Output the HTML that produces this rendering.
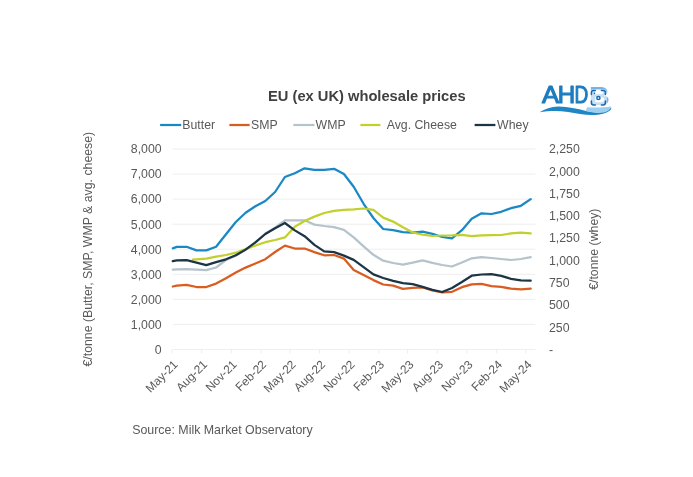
<!DOCTYPE html>
<html><head><meta charset="utf-8"><title>EU (ex UK) wholesale prices</title>
<style>
html,body{margin:0;padding:0;background:#fff;}
body{width:693px;height:477px;overflow:hidden;font-family:"Liberation Sans",Arial,sans-serif;}
svg{display:block;}
svg text{font-family:"Liberation Sans",Arial,sans-serif;}
</style></head><body>
<svg width="693" height="477" viewBox="0 0 693 477">
<rect width="693" height="477" fill="#ffffff"/>
<g id="grid">
<line x1="172.6" y1="149.0" x2="535.4" y2="149.0" stroke="#ececec" stroke-width="0.9"/>
<line x1="172.6" y1="174.1" x2="535.4" y2="174.1" stroke="#ececec" stroke-width="0.9"/>
<line x1="172.6" y1="199.1" x2="535.4" y2="199.1" stroke="#ececec" stroke-width="0.9"/>
<line x1="172.6" y1="224.2" x2="535.4" y2="224.2" stroke="#ececec" stroke-width="0.9"/>
<line x1="172.6" y1="249.2" x2="535.4" y2="249.2" stroke="#ececec" stroke-width="0.9"/>
<line x1="172.6" y1="274.3" x2="535.4" y2="274.3" stroke="#ececec" stroke-width="0.9"/>
<line x1="172.6" y1="299.4" x2="535.4" y2="299.4" stroke="#ececec" stroke-width="0.9"/>
<line x1="172.6" y1="324.4" x2="535.4" y2="324.4" stroke="#ececec" stroke-width="0.9"/>
<line x1="172.6" y1="349.5" x2="535.4" y2="349.5" stroke="#ececec" stroke-width="0.9"/>
<line x1="171.9" y1="349.5" x2="171.9" y2="353.5" stroke="#ececec" stroke-width="0.9"/>
<line x1="201.6" y1="349.5" x2="201.6" y2="353.5" stroke="#ececec" stroke-width="0.9"/>
<line x1="231.3" y1="349.5" x2="231.3" y2="353.5" stroke="#ececec" stroke-width="0.9"/>
<line x1="261.0" y1="349.5" x2="261.0" y2="353.5" stroke="#ececec" stroke-width="0.9"/>
<line x1="289.8" y1="349.5" x2="289.8" y2="353.5" stroke="#ececec" stroke-width="0.9"/>
<line x1="319.5" y1="349.5" x2="319.5" y2="353.5" stroke="#ececec" stroke-width="0.9"/>
<line x1="349.2" y1="349.5" x2="349.2" y2="353.5" stroke="#ececec" stroke-width="0.9"/>
<line x1="378.9" y1="349.5" x2="378.9" y2="353.5" stroke="#ececec" stroke-width="0.9"/>
<line x1="407.6" y1="349.5" x2="407.6" y2="353.5" stroke="#ececec" stroke-width="0.9"/>
<line x1="437.3" y1="349.5" x2="437.3" y2="353.5" stroke="#ececec" stroke-width="0.9"/>
<line x1="467.0" y1="349.5" x2="467.0" y2="353.5" stroke="#ececec" stroke-width="0.9"/>
<line x1="496.7" y1="349.5" x2="496.7" y2="353.5" stroke="#ececec" stroke-width="0.9"/>
<line x1="525.8" y1="349.5" x2="525.8" y2="353.5" stroke="#ececec" stroke-width="0.9"/>
</g>
<text x="366.8" y="101.3" text-anchor="middle" font-size="14.7" font-weight="bold" fill="#404040">EU (ex UK) wholesale prices</text>
<g id="legend" font-size="12.3" fill="#595959">
<line x1="160.1" y1="125" x2="181.2" y2="125" stroke="#1a88c4" stroke-width="2.25"/>
<text x="182.3" y="129.2">Butter</text>
<line x1="229.4" y1="125" x2="249.6" y2="125" stroke="#d95d20" stroke-width="2.25"/>
<text x="251.0" y="129.2">SMP</text>
<line x1="293.4" y1="125" x2="314.5" y2="125" stroke="#b5c3cb" stroke-width="2.25"/>
<text x="315.6" y="129.2">WMP</text>
<line x1="360.4" y1="125" x2="380.4" y2="125" stroke="#c1d02d" stroke-width="2.25"/>
<text x="386.7" y="129.2">Avg. Cheese</text>
<line x1="474.6" y1="125" x2="495.4" y2="125" stroke="#1c3545" stroke-width="2.25"/>
<text x="497.1" y="129.2">Whey</text>
</g>
<g id="yleft" font-size="12.3" fill="#595959">
<text x="161.6" y="153.3" text-anchor="end">8,000</text>
<text x="161.6" y="178.4" text-anchor="end">7,000</text>
<text x="161.6" y="203.4" text-anchor="end">6,000</text>
<text x="161.6" y="228.5" text-anchor="end">5,000</text>
<text x="161.6" y="253.5" text-anchor="end">4,000</text>
<text x="161.6" y="278.6" text-anchor="end">3,000</text>
<text x="161.6" y="303.7" text-anchor="end">2,000</text>
<text x="161.6" y="328.7" text-anchor="end">1,000</text>
<text x="161.6" y="353.8" text-anchor="end">0</text>
</g>
<g id="yright" font-size="12.3" fill="#595959">
<text x="549.0" y="153.3">2,250</text>
<text x="549.0" y="175.6">2,000</text>
<text x="549.0" y="197.9">1,750</text>
<text x="549.0" y="220.1">1,500</text>
<text x="549.0" y="242.4">1,250</text>
<text x="549.0" y="264.7">1,000</text>
<text x="549.0" y="287.0">750</text>
<text x="549.0" y="309.3">500</text>
<text x="549.0" y="331.5">250</text>
<text x="549.0" y="353.8">-</text>
</g>
<g id="xlabels" font-size="11.9" fill="#595959">
<text transform="translate(178.5,365.2) rotate(-45)" text-anchor="end">May-21</text>
<text transform="translate(208.0,365.2) rotate(-45)" text-anchor="end">Aug-21</text>
<text transform="translate(237.5,365.2) rotate(-45)" text-anchor="end">Nov-21</text>
<text transform="translate(267.0,365.2) rotate(-45)" text-anchor="end">Feb-22</text>
<text transform="translate(296.5,365.2) rotate(-45)" text-anchor="end">May-22</text>
<text transform="translate(325.9,365.2) rotate(-45)" text-anchor="end">Aug-22</text>
<text transform="translate(355.4,365.2) rotate(-45)" text-anchor="end">Nov-22</text>
<text transform="translate(384.9,365.2) rotate(-45)" text-anchor="end">Feb-23</text>
<text transform="translate(414.4,365.2) rotate(-45)" text-anchor="end">May-23</text>
<text transform="translate(443.9,365.2) rotate(-45)" text-anchor="end">Aug-23</text>
<text transform="translate(473.4,365.2) rotate(-45)" text-anchor="end">Nov-23</text>
<text transform="translate(502.9,365.2) rotate(-45)" text-anchor="end">Feb-24</text>
<text transform="translate(532.4,365.2) rotate(-45)" text-anchor="end">May-24</text>
</g>
<text transform="translate(92,249.2) rotate(-90)" text-anchor="middle" font-size="12.3" fill="#595959">€/tonne (Butter, SMP, WMP &amp; avg. cheese)</text>
<text transform="translate(597.7,249.2) rotate(-90)" text-anchor="middle" font-size="12.3" fill="#595959">€/tonne (whey)</text>
<g id="series">
<polyline points="172.8,248.4 176.8,246.9 186.6,246.8 196.5,250.4 206.3,250.4 216.1,246.7 226.0,234.2 235.8,222.0 245.6,212.8 255.4,206.2 265.3,201.0 275.1,192.0 284.9,177.0 294.8,173.3 304.6,168.3 314.4,169.9 324.2,169.9 334.1,168.8 343.9,174.0 353.7,186.8 363.6,203.8 373.4,218.0 383.2,229.0 393.1,230.2 402.9,232.1 412.7,232.7 422.6,231.6 432.4,233.8 442.2,237.0 452.0,238.3 461.9,230.2 471.7,218.8 481.5,213.3 491.4,214.0 501.2,211.8 511.0,208.2 520.9,205.8 530.7,199.1" fill="none" stroke="#1a88c4" stroke-width="2.25" stroke-linejoin="round" stroke-linecap="round"/>
<polyline points="172.8,286.5 176.8,285.6 186.6,284.8 196.5,287.0 206.3,287.0 216.1,283.6 226.0,278.2 235.8,272.6 245.6,267.6 255.4,263.5 265.3,259.2 275.1,252.0 284.9,245.6 294.8,248.5 304.6,248.5 314.4,252.1 324.2,255.3 334.1,255.0 343.9,258.6 353.7,270.0 363.6,275.1 373.4,280.1 383.2,284.5 393.1,285.6 402.9,288.9 412.7,287.9 422.6,287.4 432.4,290.5 442.2,292.3 452.0,291.8 461.9,287.2 471.7,284.3 481.5,283.9 491.4,286.2 501.2,286.9 511.0,288.7 520.9,289.4 530.7,288.7" fill="none" stroke="#d95d20" stroke-width="2.25" stroke-linejoin="round" stroke-linecap="round"/>
<polyline points="172.8,269.6 176.8,269.4 186.6,269.1 196.5,269.7 206.3,270.2 216.1,267.5 226.0,260.0 235.8,255.6 245.6,249.8 255.4,242.5 265.3,233.8 275.1,227.6 284.9,220.3 294.8,220.3 304.6,220.3 314.4,224.6 324.2,226.0 334.1,227.1 343.9,229.8 353.7,237.4 363.6,246.3 373.4,254.8 383.2,260.7 393.1,263.0 402.9,264.6 412.7,262.7 422.6,260.3 432.4,262.8 442.2,265.0 452.0,266.5 461.9,262.5 471.7,258.3 481.5,257.1 491.4,258.0 501.2,259.0 511.0,260.0 520.9,259.0 530.7,257.1" fill="none" stroke="#b5c3cb" stroke-width="2.25" stroke-linejoin="round" stroke-linecap="round"/>
<polyline points="192.8,259.6 196.5,259.3 206.3,258.6 216.1,256.6 226.0,255.0 235.8,252.7 245.6,249.1 255.4,245.5 265.3,242.2 275.1,240.0 284.9,237.4 294.8,226.8 304.6,221.0 314.4,216.6 324.2,213.0 334.1,210.9 343.9,209.8 353.7,209.3 363.6,208.5 373.4,209.9 383.2,217.6 393.1,221.6 402.9,227.2 412.7,232.5 422.6,234.6 432.4,236.0 442.2,235.5 452.0,235.4 461.9,234.8 471.7,236.2 481.5,235.4 491.4,235.2 501.2,235.0 511.0,233.4 520.9,232.6 530.7,233.4" fill="none" stroke="#c1d02d" stroke-width="2.25" stroke-linejoin="round" stroke-linecap="round"/>
<polyline points="172.8,261.2 176.8,260.4 186.6,260.2 196.5,262.6 206.3,265.2 216.1,262.2 226.0,259.3 235.8,255.3 245.6,249.6 255.4,242.4 265.3,234.0 275.1,228.2 284.9,223.0 294.8,230.4 304.6,236.2 314.4,244.9 324.2,251.4 334.1,252.1 343.9,255.6 353.7,259.9 363.6,267.2 373.4,274.4 383.2,278.0 393.1,280.8 402.9,283.1 412.7,284.2 422.6,286.9 432.4,289.8 442.2,292.0 452.0,288.0 461.9,282.0 471.7,275.7 481.5,274.5 491.4,274.2 501.2,275.9 511.0,278.8 520.9,280.3 530.7,280.7" fill="none" stroke="#1c3545" stroke-width="2.25" stroke-linejoin="round" stroke-linecap="round"/>
</g>
<g id="logo">
<g font-size="23.2" fill="#1b7cbf" stroke="#1b7cbf" stroke-width="1.05" stroke-linejoin="round">
<text transform="translate(541.9,103.4) scale(1.1,1)">A</text>
<text transform="translate(557.7,103.4) scale(1.04,1)">H</text>
<text transform="translate(574.6,103.4) scale(0.82,1)">D</text>
</g>
<text transform="translate(589.0,105.2) scale(1.09,1)" font-size="26.5" font-weight="bold" fill="#74b4e4">B</text>
<path d="M539.6,112.2 C545,109 551,106.8 558,106.6 C567,106.4 577,109 586,110.9 C594,112.6 604,113 611.2,107.4 L611.2,109.2 C607,113.5 600,115 592,115 C584,115 576,113 568,111.9 C558,110.5 548,110.8 539.6,112.2 Z" fill="#1f86c5"/>
<path d="M587,107.2 C595,107.8 604,107.5 610.8,106.4 C611.5,108 609,111 604,112.6 C598,113.8 592,112.3 586,110.9 Z" fill="#9ccff0"/>
<rect x="590" y="89.2" width="16.8" height="17" rx="3" fill="#ffffff" fill-opacity="0.6"/>
<g fill="none" stroke="#1868ae" stroke-width="1.5" stroke-linecap="round" stroke-linejoin="round">
<path d="M591.4,94.4 V92.8 Q591.4,90.6 593.6,90.6 H595.4"/>
<path d="M601.4,90.6 H603.2 Q605.4,90.6 605.4,92.8 V94.4"/>
<path d="M605.4,101.1 V102.7 Q605.4,104.9 603.2,104.9 H601.4"/>
<path d="M595.4,104.9 H593.6 Q591.4,104.9 591.4,102.7 V101.1"/>
<circle cx="598.4" cy="98" r="1.6"/>
</g>
<circle cx="594.4" cy="93.4" r="0.8" fill="#1b6db3"/>
</g>
<text x="132.2" y="434.2" font-size="12.4" fill="#595959">Source: Milk Market Observatory</text>
</svg>
</body></html>
